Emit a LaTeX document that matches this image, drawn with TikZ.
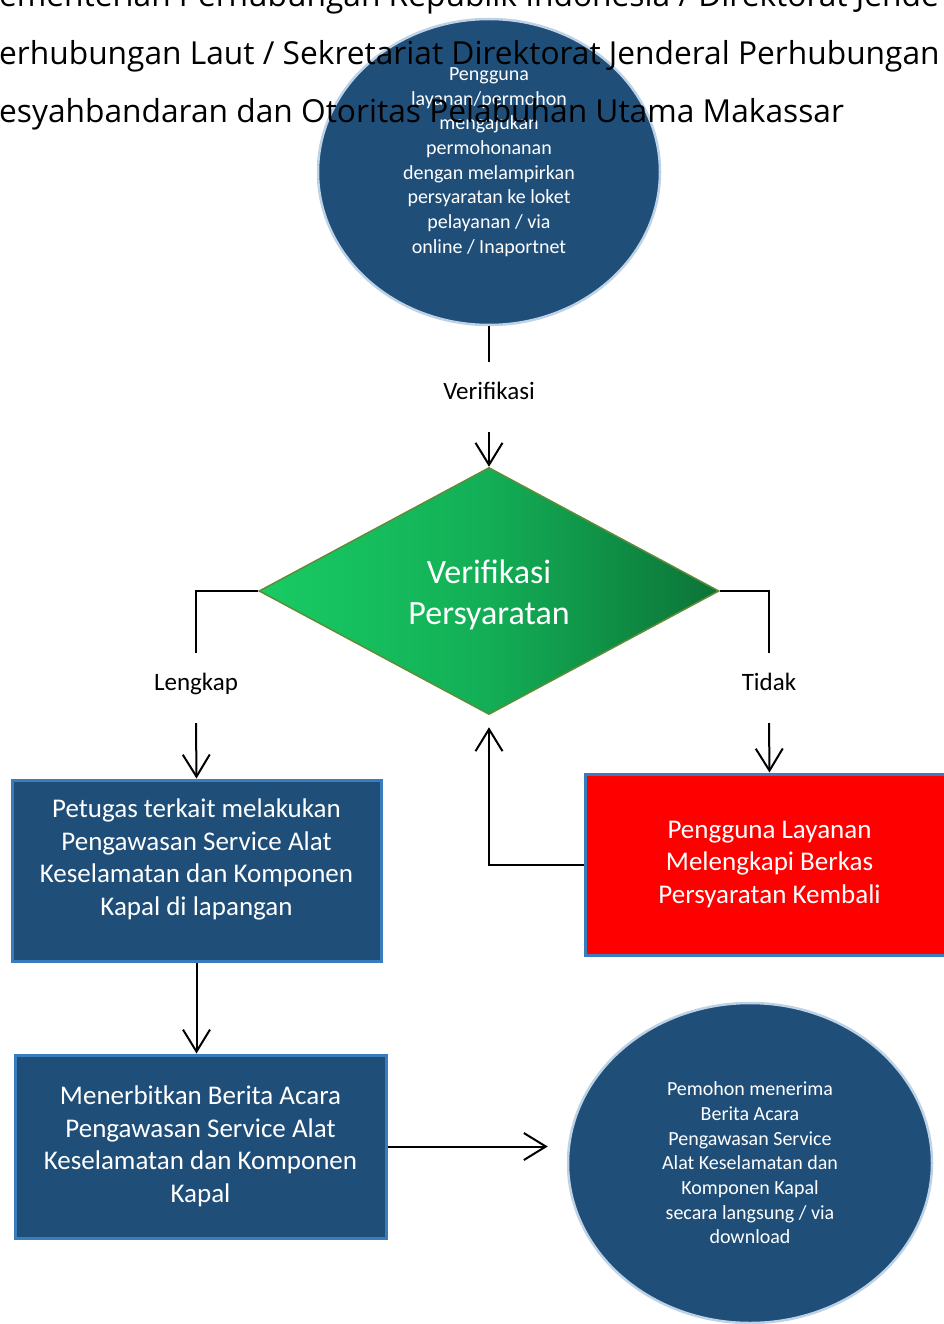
\documentclass[tikz,border=0pt]{standalone}
\usepackage{fontspec}
\setmainfont{Carlito}
\newfontfamily\headfont{Open Sans}
\usetikzlibrary{shapes.geometric,arrows.meta}
\definecolor{boxblue}{RGB}{31,78,121}
\definecolor{edgeblue}{RGB}{58,125,190}
\definecolor{ringblue}{RGB}{190,210,230}
\definecolor{greenA}{RGB}{24,203,100}
\definecolor{greenB}{RGB}{19,174,86}
\definecolor{greenC}{RGB}{12,115,55}
\definecolor{greenedge}{RGB}{95,140,55}
\definecolor{redfill}{RGB}{255,0,0}
\tikzset{
        endpt/.style={ellipse,fill=boxblue,draw=ringblue,line width=2.5pt,inner sep=0pt},
        stepbox/.style={rectangle,fill=boxblue,draw=edgeblue,line width=3pt,text=white,align=center,
                minimum width=369pt,minimum height=181pt,font=\fontsize{27}{32.5}\selectfont},
        lbl/.style={inner sep=0pt,anchor=base,text height=37pt,text depth=33pt,font=\fontsize{25}{30}\selectfont},
        head/.style={inner sep=0pt,anchor=base west,font=\headfont\fontsize{31.7}{40}\selectfont},
        flow/.style={line width=2pt,-{Straight Barb[length=22pt,width=27pt]}}
    }
\begin{document}
\begin{tikzpicture}[x=1pt,y=-1pt]
\useasboundingbox (0,0) rectangle (944,1324);
\clip (0,0) rectangle (944,1324);

\draw (489,172) node(START)[endpt,minimum width=342pt,minimum height=306pt]{ };
\draw (489,162) node(STARTTXT)[text=white,align=center,font=\fontsize{20}{24.7}\selectfont]{Pengguna\\layanan/permohon\\mengajukan\\permohonanan\\dengan melampirkan\\persyaratan ke loket\\pelayanan / via\\online / Inaportnet};
\draw (489,399) node(VER)[lbl]{Verifikasi};
\draw (489,591) node(CHECK)[diamond,draw=greenedge,line width=1.5pt,left color=greenA,right color=greenC,middle color=greenB,
        minimum width=460pt,minimum height=247pt,inner sep=0pt,text=white,align=center,font=\fontsize{34}{41}\selectfont]{\rule{0pt}{32pt}Verifikasi\\Persyaratan};
\draw (196,690) node(LENGKAP)[lbl]{Lengkap};
\draw (769,690) node(TIDAK)[lbl]{Tidak};
\draw (196.5,870.5) node(PETUGAS)[stepbox]{Petugas terkait melakukan\\Pengawasan Service Alat\\Keselamatan dan Komponen\\Kapal di lapangan\rule[-27pt]{0pt}{1pt}};
\draw (769.5,864.5) node(ULANG)[stepbox,fill=redfill,minimum width=368pt]{Pengguna Layanan\\Melengkapi Berkas\\Persyaratan Kembali};
\draw (200.5,1146.5) node(TERBIT)[stepbox,minimum width=371pt,minimum height=183pt]{Menerbitkan Berita Acara\\Pengawasan Service Alat\\Keselamatan dan Komponen\\Kapal};
\draw (750,1163) node(FINISH)[endpt,minimum width=364pt,minimum height=320pt,text=white,align=center,font=\fontsize{20}{24.7}\selectfont]{Pemohon menerima\\Berita Acara\\Pengawasan Service\\Alat Keselamatan dan\\Komponen Kapal\\secara langsung / via\\download};

\draw[line width=2pt] (START.south) -- (VER.north);
\draw[flow] (VER.south) -- (CHECK.north);
\draw[line width=2pt] (CHECK.west) -| (LENGKAP.north);
\draw[flow] (LENGKAP.south) -- (PETUGAS.north);
\draw[line width=2pt] (CHECK.east) -| (TIDAK.north);
\draw[flow] (TIDAK.south) -- (ULANG.north);
\draw[flow,shorten >=12pt] (ULANG.west) -| (CHECK.south);
\draw[flow] (PETUGAS.south) -- (PETUGAS.south |- TERBIT.north);
\draw[flow,shorten >=19pt] (TERBIT.east) -- (TERBIT.east -| FINISH.west);

\draw (-1,7) node(HEAD1)[head]{ementerian Perhubungan Republik Indonesia / Direktorat Jende};
\draw (-1,65) node(HEAD2)[head]{erhubungan Laut / Sekretariat Direktorat Jenderal Perhubungan};
\draw (-1,123) node(HEAD3)[head]{esyahbandaran dan Otoritas Pelabuhan Utama Makassar};

\end{tikzpicture}
\end{document}
